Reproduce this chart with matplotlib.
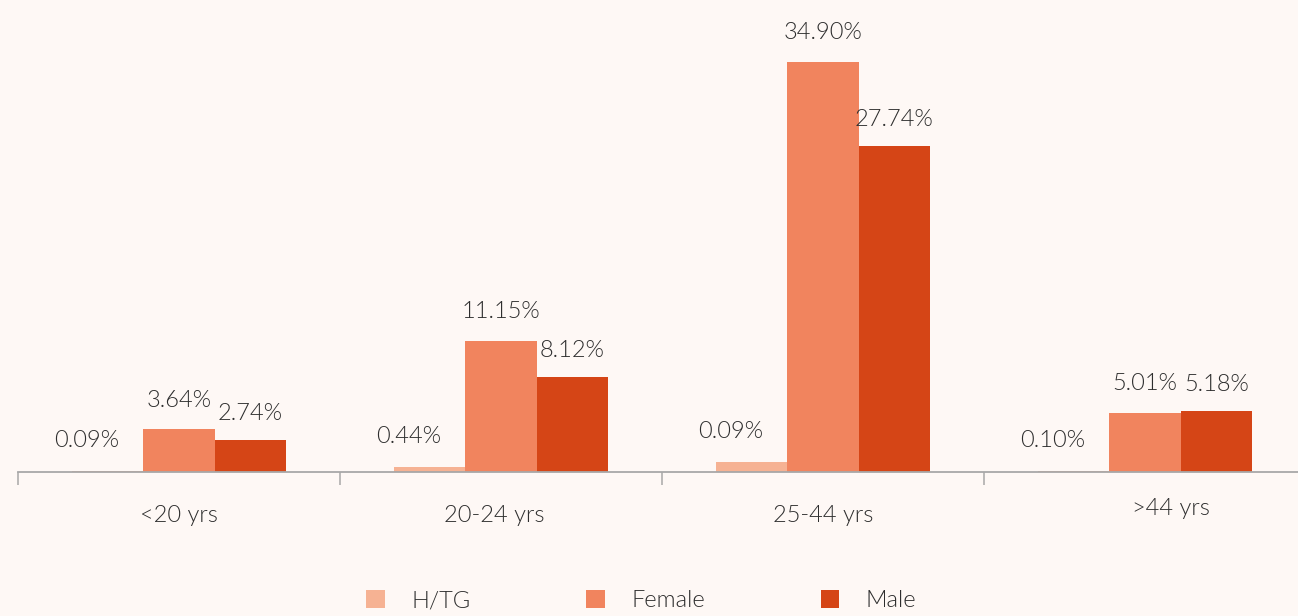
import matplotlib.pyplot as plt
import numpy as np

# data
age_groups = ['<20 yrs', '20-24 yrs', '25-44 yrs', '>44 yrs']
htg = [0.09, 0.44, 0.85, 0.10]          # bar heights as drawn
htg_labels = ['0.09%', '0.44%', '0.09%', '0.10%']  # labels as printed
female = [3.64, 11.15, 34.90, 5.01]
male = [2.74, 8.12, 27.74, 5.18]

series_names = ['H/TG', 'Female', 'Male']
colors = ['#F6B293', '#F1845E', '#D54516']
bg = '#FEF8F5'
text_col = '#2E2E2E'

plt.rcParams['font.family'] = ['Lato', 'DejaVu Sans']
plt.rcParams['font.weight'] = 300

fig = plt.figure(figsize=(12.98, 6.16), dpi=100, facecolor=bg)
ax = fig.add_axes([18 / 1298, 1 - 472 / 616, 1288 / 1298, 470 / 616])
ax.set_facecolor(bg)

x = np.arange(len(age_groups))
w = 0.222

series = [htg, female, male]
bars = []
for i, (vals, c, name) in enumerate(zip(series, colors, series_names)):
    b = ax.bar(x + (i - 1) * w, vals, width=w, color=c, label=name)
    bars.append(b)

# value labels
for rect, txt in zip(bars[0], htg_labels):
    ax.annotate(txt, (rect.get_x() + rect.get_width() / 2, rect.get_height()),
                xytext=(-15, 22), textcoords='offset points',
                ha='center', va='center', fontsize=17, color=text_col)
for b, vals, dy in zip(bars[1:], [female, male], [21, 19]):
    for rect, v in zip(b, vals):
        ax.annotate(f'{v:.2f}%', (rect.get_x() + rect.get_width() / 2, v),
                    xytext=(0, dy), textcoords='offset points',
                    ha='center', va='center', fontsize=17, color=text_col)

ax.set_xlim(-0.5, len(age_groups) - 0.5)
ax.set_ylim(0, 40)

for s in ['top', 'right', 'left']:
    ax.spines[s].set_visible(False)
ax.spines['bottom'].set_color('#A8A8A8')
ax.spines['bottom'].set_linewidth(1.3)
ax.set_yticks([])
ax.set_xticks(x - 0.5)
ax.set_xticklabels([])
ax.tick_params(axis='x', length=9, width=1.1, color='#A8A8A8', direction='out')

# category labels
cat_offsets = [(0, -31), (-5, -31), (0, -31), (19, -26)]
for xi, lab, (dx, dy) in zip(x, age_groups, cat_offsets):
    ax.annotate(lab, (xi, 0), xytext=(dx, dy), textcoords='offset points',
                ha='center', va='center', fontsize=17, color=text_col,
                annotation_clip=False)

leg = fig.legend(loc='center', bbox_to_anchor=(0.494, 0.025), ncol=3,
                 frameon=False, fontsize=17, handlelength=0.8, handleheight=0.8,
                 handletextpad=1.1, columnspacing=4.9, borderpad=0.1)
for t in leg.get_texts():
    t.set_color(text_col)

fig.savefig('out.png', dpi=100, facecolor=bg)
